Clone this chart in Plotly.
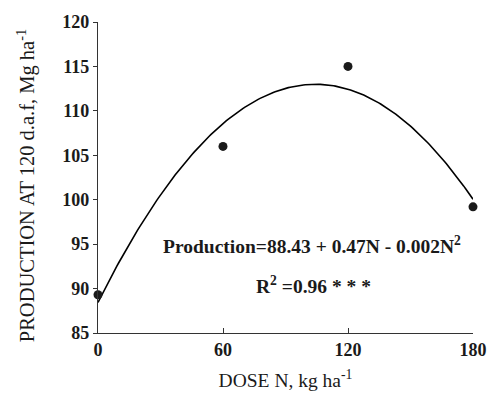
import numpy as np
import plotly.graph_objects as go

dose = [0, 60, 120, 180]
production = [89.3, 106.0, 115.0, 99.2]
x_ticks = [0, 60, 120, 180]
y_ticks = [85, 90, 95, 100, 105, 110, 115, 120]

coef = np.polyfit(dose, production, 2)
xf = np.linspace(min(dose), max(dose), 200)
yf = np.polyval(coef, xf)

font_fam = "Liberation Serif"
fig = go.Figure()
fig.add_trace(go.Scatter(x=xf, y=yf, mode="lines", line=dict(color="black", width=1.6),
                         showlegend=False, hoverinfo="skip", cliponaxis=False))
fig.add_trace(go.Scatter(x=dose, y=production, mode="markers",
                         marker=dict(color="#1a1a1a", size=9), showlegend=False, cliponaxis=False))

fig.add_annotation(x=102.6, y=94.9, xref="x", yref="y", showarrow=False,
                   text="<b>Production=88.43 + 0.47N - 0.002N<sup>2</sup></b>",
                   font=dict(family=font_fam, size=19.5, color="#1a1a1a"))
fig.add_annotation(x=103.5, y=90.4, xref="x", yref="y", showarrow=False,
                   text="<b>R<sup>2</sup> =0.96 * * *</b>",
                   font=dict(family=font_fam, size=19.5, color="#1a1a1a"))
# y-axis title placed as rotated annotation
fig.add_annotation(x=-0.192, y=0.472, xref="paper", yref="paper", showarrow=False,
                   textangle=-90, xanchor="center", yanchor="middle",
                   text="PRODUCTION AT 120 d.a.f, Mg ha<sup>-1</sup>",
                   font=dict(family=font_fam, size=20.5, color="#1a1a1a"))

fig.update_layout(
    width=499, height=399,
    margin=dict(l=98, r=16, t=22, b=61),
    paper_bgcolor="white", plot_bgcolor="white",
    font=dict(family=font_fam, color="#1a1a1a"),
    xaxis=dict(range=[0, 180], tickvals=x_ticks, ticks="inside", ticklen=5, tickcolor="#333",
               showline=True, linecolor="#333", linewidth=1.2, showgrid=False, zeroline=False,
               tickfont=dict(family=font_fam, size=18, weight="bold"),
               title=dict(text="DOSE N, kg ha<sup>-1</sup>", font=dict(family=font_fam, size=19.5), standoff=14)),
    yaxis=dict(range=[85, 120], tickvals=y_ticks, ticks="outside", ticklen=4, tickcolor="#333",
               showline=True, linecolor="#333", linewidth=1.2, showgrid=False, zeroline=False,
               tickfont=dict(family=font_fam, size=18, weight="bold")),
)
fig.write_html("out.html")
